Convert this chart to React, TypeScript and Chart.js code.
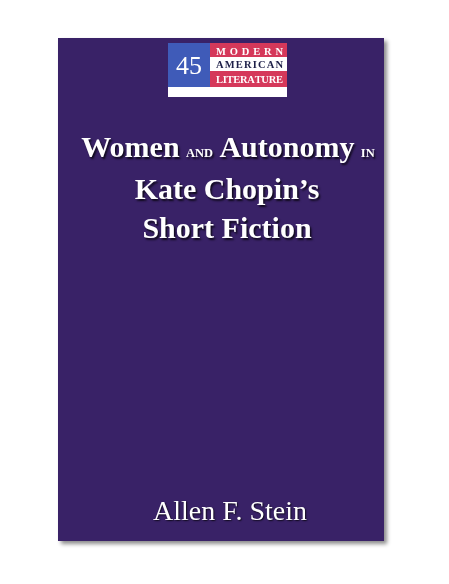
import { useEffect, useRef } from "react";
import { Chart, registerables } from "chart.js";

// Register Chart.js components
Chart.register(...registerables);

// Cover texts
const seriesNumber = ["45"];
const seriesWords = ["MODERN", "AMERICAN", "LITERATURE"];
const titleFirstLine = ["Women", "AND", "Autonomy", "IN"];
const titleSmallWords = ["AND", "IN"];
const titleLines = ["Kate Chopin’s", "Short Fiction"];
const authorName = ["Allen F. Stein"];

const PURPLE = "#392267";
const BLUE = "#3f5bb8";
const RED = "#d5385a";
const NAVY = "#1d1f48";
const SERIF = "'Liberation Serif', 'Times New Roman', serif";

// draws letters spread evenly between x0 and x1
const drawSpread = (ctx: CanvasRenderingContext2D, text: string, x0: number, x1: number, y: number) => {
  const chars = text.split("");
  const widths = chars.map((c) => ctx.measureText(c).width);
  const total = widths.reduce((a, b) => a + b, 0);
  const gap = chars.length > 1 ? (x1 - x0 - total) / (chars.length - 1) : 0;
  let x = x0;
  ctx.textAlign = "left";
  chars.forEach((c, i) => {
    ctx.fillText(c, x, y);
    x += widths[i] + gap;
  });
};

const coverPlugin = {
  id: "cover",
  beforeDraw(chart: Chart) {
    const ctx = chart.ctx;
    ctx.save();
    ctx.fillStyle = "#ffffff";
    ctx.fillRect(0, 0, chart.width, chart.height);

    // book body with a soft shadow
    ctx.shadowColor = "rgba(0,0,0,0.45)";
    ctx.shadowOffsetX = 3;
    ctx.shadowOffsetY = 3;
    ctx.shadowBlur = 4;
    ctx.fillStyle = PURPLE;
    ctx.fillRect(58, 38, 326, 503);
    ctx.shadowColor = "transparent";

    // series logo
    ctx.fillStyle = "#ffffff";
    ctx.fillRect(168, 43, 119, 54);
    ctx.fillStyle = BLUE;
    ctx.fillRect(168, 43, 42, 44);
    ctx.fillStyle = RED;
    ctx.fillRect(210, 43, 77, 14);
    ctx.fillRect(210, 71, 77, 16);

    ctx.fillStyle = "#ffffff";
    ctx.font = `26px ${SERIF}`;
    ctx.textAlign = "center";
    ctx.textBaseline = "alphabetic";
    ctx.fillText(seriesNumber[0], 189, 74);

    ctx.font = `bold 10.5px ${SERIF}`;
    const rowBase = [54.5, 68, 83];
    seriesWords.forEach((w, i) => {
      ctx.fillStyle = i === 1 ? NAVY : "#ffffff";
      drawSpread(ctx, w, 216, 283, rowBase[i]);
    });

    // title
    ctx.shadowColor = "rgba(0,0,0,0.75)";
    ctx.shadowOffsetX = 1.5;
    ctx.shadowOffsetY = 1.5;
    ctx.shadowBlur = 2;
    ctx.fillStyle = "#ffffff";
    const bigFont = `bold 30px ${SERIF}`;
    const smallFont = `bold 12.5px ${SERIF}`;
    const parts = titleFirstLine.map((w) => {
      ctx.font = titleSmallWords.includes(w) ? smallFont : bigFont;
      return { w, font: ctx.font, width: ctx.measureText(w).width };
    });
    ctx.font = bigFont;
    const space = ctx.measureText(" ").width * 0.85;
    const lineWidth = parts.reduce((a, p) => a + p.width, 0) + space * (parts.length - 1);
    let x = 228 - lineWidth / 2;
    ctx.textAlign = "left";
    parts.forEach((p) => {
      ctx.font = p.font;
      ctx.fillText(p.w, x, 157);
      x += p.width + space;
    });

    ctx.font = bigFont;
    ctx.textAlign = "center";
    const lineBase = [199, 238];
    titleLines.forEach((l, i) => ctx.fillText(l, 227, lineBase[i]));

    // author
    ctx.shadowOffsetX = 1;
    ctx.shadowOffsetY = 1;
    ctx.shadowBlur = 1.5;
    ctx.font = `28px ${SERIF}`;
    ctx.fillText(authorName[0], 230, 520);
    ctx.restore();
  },
};

const App = () => {
  const canvasRef = useRef<HTMLCanvasElement>(null);
  const chartRef = useRef<Chart | null>(null);

  useEffect(() => {
    document.body.style.margin = "0";
    if (!canvasRef.current) return;
    if (chartRef.current) chartRef.current.destroy();

    chartRef.current = new Chart(canvasRef.current, {
      type: "bar",
      data: { labels: [], datasets: [] },
      options: {
        responsive: true,
        maintainAspectRatio: false,
        animation: false,
        plugins: {
          legend: { display: false },
          tooltip: { enabled: false },
        },
        scales: {
          x: { display: false },
          y: { display: false },
        },
      },
      plugins: [coverPlugin],
    });

    return () => {
      if (chartRef.current) {
        chartRef.current.destroy();
        chartRef.current = null;
      }
    };
  }, []);

  return (
    <div style={{ width: 449, height: 584, position: "relative" }}>
      <canvas ref={canvasRef}></canvas>
    </div>
  );
};

export default App;
